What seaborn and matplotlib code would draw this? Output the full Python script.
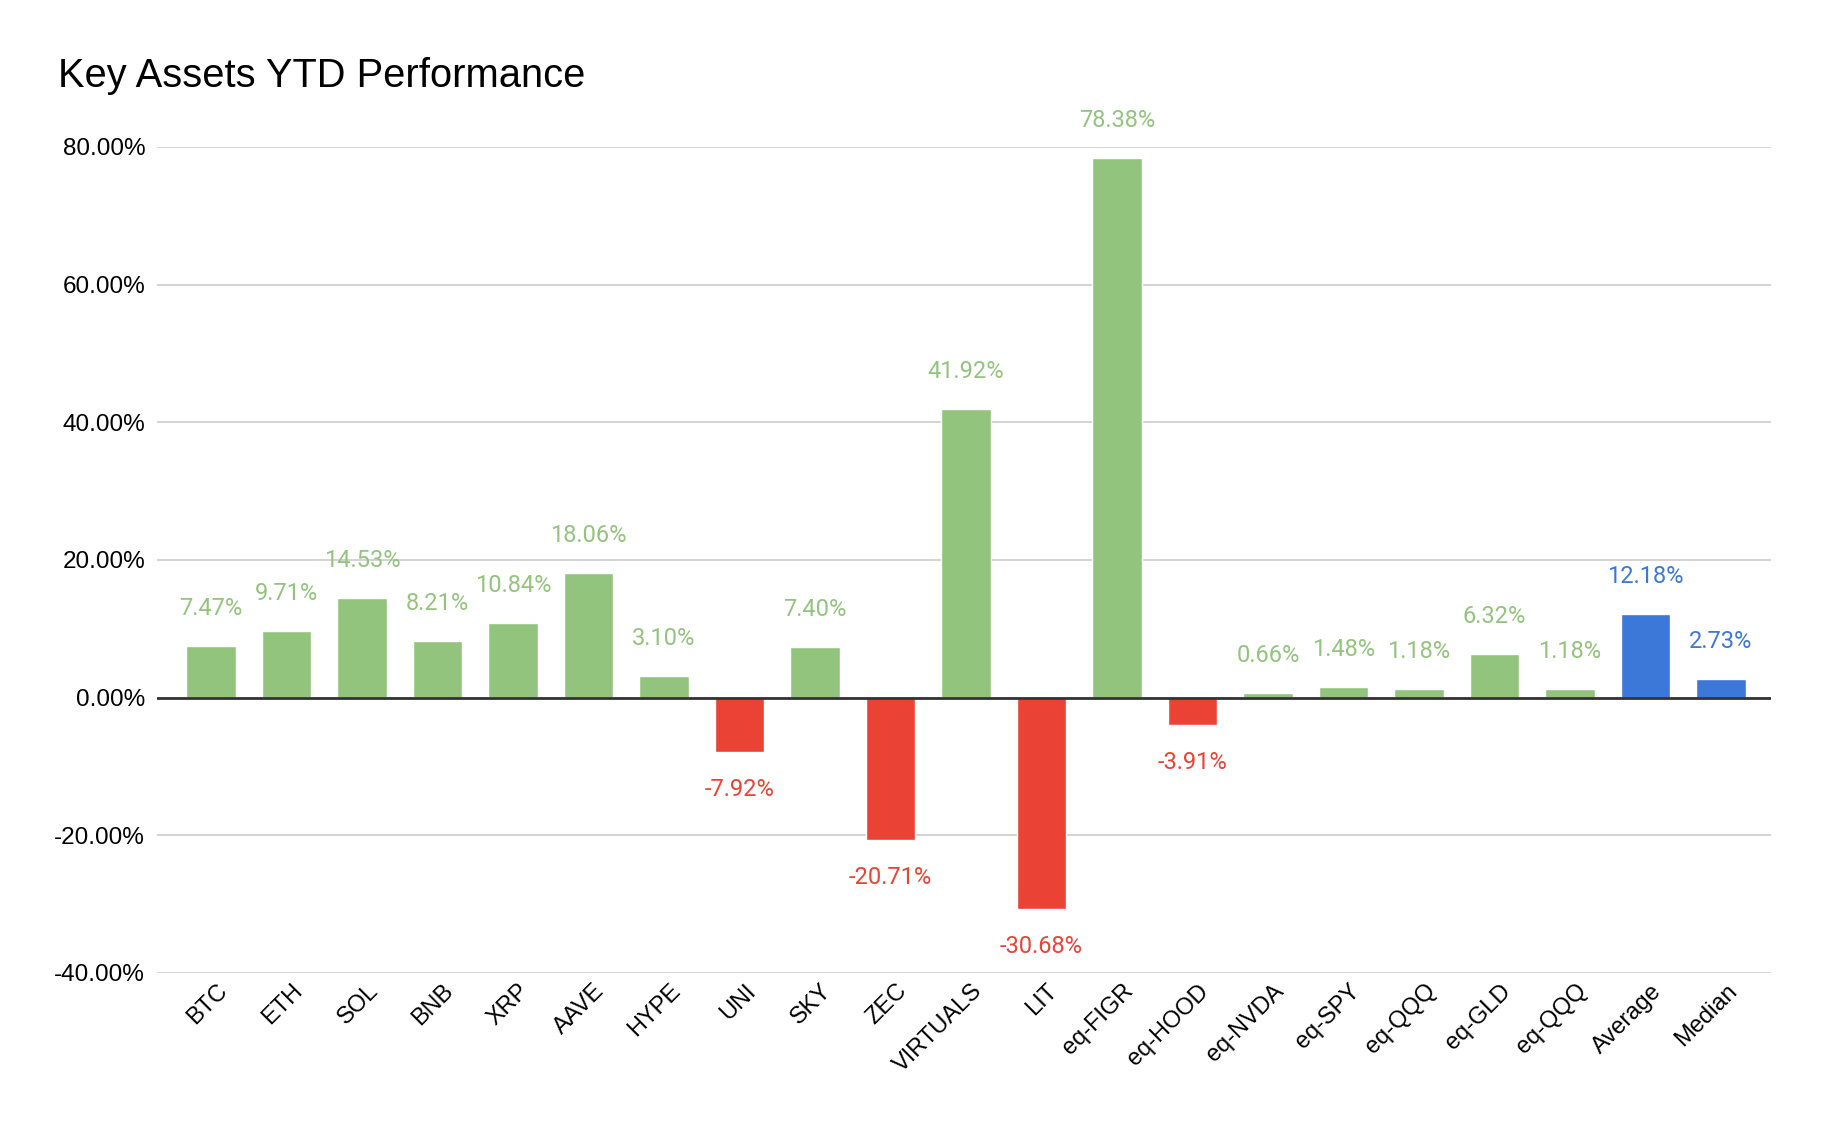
import matplotlib
matplotlib.use("Agg")
import matplotlib.pyplot as plt
import matplotlib.transforms as mtrans
import seaborn as sns
import pandas as pd

# Данные графика
assets = ["BTC", "ETH", "SOL", "BNB", "XRP", "AAVE", "HYPE", "UNI", "SKY", "ZEC",
          "VIRTUALS", "LIT", "eq-FIGR", "eq-HOOD", "eq-NVDA", "eq-SPY", "eq-QQQ",
          "eq-GLD", "eq-QQQ ", "Average", "Median"]
ytd = [7.47, 9.71, 14.53, 8.21, 10.84, 18.06, 3.10, -7.92, 7.40, -20.71,
       41.92, -30.68, 78.38, -3.91, 0.66, 1.48, 1.18, 6.32, 1.18, 12.18, 2.73]
summary = ["Average", "Median"]

tick_labels = [a.strip() for a in assets]
y_ticks = [-40, -20, 0, 20, 40, 60, 80]

GREEN = "#93c47d"
RED = "#ea4335"
BLUE = "#3c78d8"

colors = [BLUE if a in summary else (GREEN if v >= 0 else RED) for a, v in zip(assets, ytd)]
df = pd.DataFrame({"asset": assets, "ytd": ytd})

sns.set_theme(style="white")
plt.rcParams['font.family'] = ['Liberation Sans', 'DejaVu Sans']

fig = plt.figure(figsize=(18.28, 11.32), dpi=100)
ax = fig.add_axes([0.0859, 0.1405, 0.8829, 0.7297])

sns.barplot(data=df, x="asset", y="ytd", hue="asset", palette=colors,
            legend=False, width=0.66, saturation=1, ax=ax, zorder=3)

# Подписи значений над / под столбцами
for i, (v, c) in enumerate(zip(ytd, colors)):
    off = 27 if v >= 0 else -27
    ax.annotate(f"{v:.2f}%", (i, v), xytext=(0, off), textcoords="offset points",
                ha="center", va="center", color=c, fontsize=17,
                family=['Roboto', 'DejaVu Sans'], clip_on=False, zorder=4)

# Оси и сетка
ax.set_ylim(-40, 80)
ax.set_xlim(-0.715, len(assets) - 0.338)
ax.set_yticks(y_ticks)
ax.set_yticklabels([f"{t:.2f}%" for t in y_ticks])
ax.yaxis.grid(True, color="#cccccc", linewidth=1.2, zorder=0)
ax.axhline(0, color="#333333", linewidth=2, zorder=5)
for s in ax.spines.values():
    s.set_visible(False)

ax.set_xticks(range(len(assets)))
ax.set_xticklabels(tick_labels, rotation=45, ha="right", rotation_mode="anchor")
ax.tick_params(axis="x", labelsize=17, colors="#000000", pad=5, length=0)
ax.tick_params(axis="y", labelsize=17.5, colors="#000000", pad=8.5, length=0)
shift = mtrans.ScaledTranslation(5 / 100, 0, fig.dpi_scale_trans)
for lbl in ax.get_xticklabels():
    lbl.set_transform(lbl.get_transform() + shift)
ax.set_xlabel("")
ax.set_ylabel("")

fig.text(0.0317, 0.923, "Key Assets YTD Performance", fontsize=28.7,
         color="#000000", ha="left", va="baseline")

plt.savefig("out.png", dpi=100)
